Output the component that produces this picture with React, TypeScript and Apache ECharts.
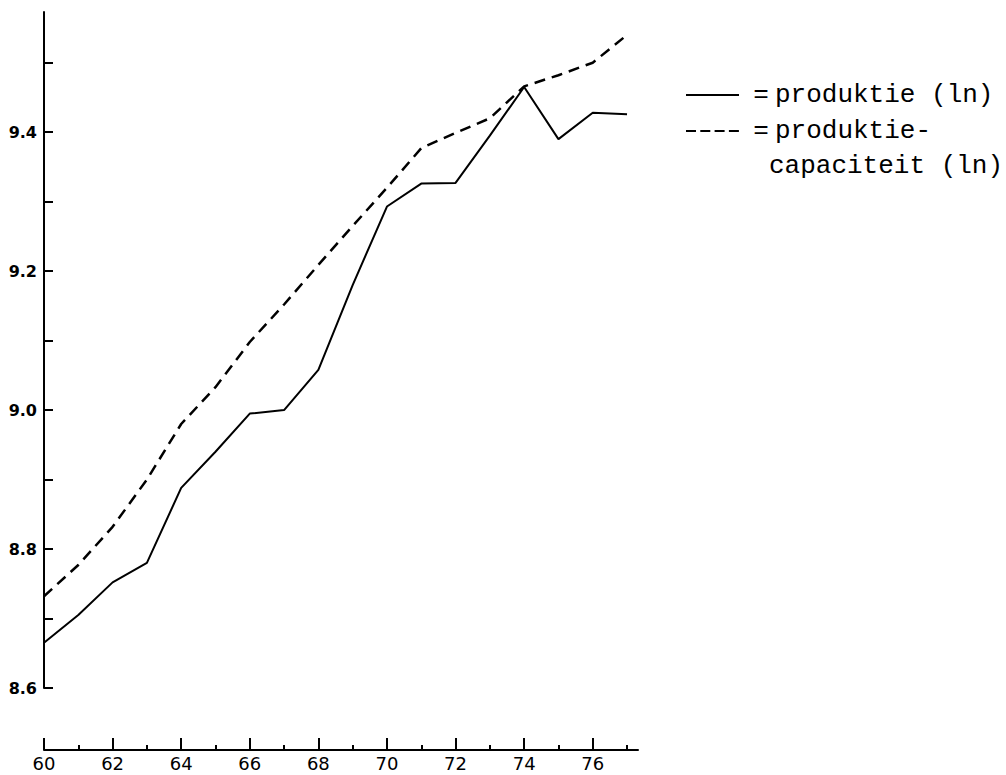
import React, { useEffect, useRef } from "react";
import * as echarts from "echarts";

const years = [60, 61, 62, 63, 64, 65, 66, 67, 68, 69, 70, 71, 72, 73, 74, 75, 76, 77];
const produktie = [8.665, 8.705, 8.752, 8.78, 8.888, 8.94, 8.995, 9.0, 9.058, 9.18, 9.293, 9.326, 9.327, 9.395, 9.465, 9.39, 9.428, 9.426];
const capaciteit = [8.732, 8.777, 8.832, 8.9, 8.98, 9.033, 9.098, 9.152, 9.209, 9.265, 9.32, 9.377, 9.399, 9.42, 9.466, 9.482, 9.5, 9.54];
const xMajorTicks = [60, 62, 64, 66, 68, 70, 72, 74, 76];
const xMinorTicks = [61, 63, 65, 67, 69, 71, 73, 75, 77];
const yTicks = [8.6, 8.7, 8.8, 8.9, 9.0, 9.1, 9.2, 9.3, 9.4, 9.5];
const yLabels = [8.6, 8.8, 9.0, 9.2, 9.4];
const legendSolid = "produktie (ln)";
const legendDashed1 = "produktie-";
const legendDashed2 = "capaciteit (ln)";

export default function App() {
  const ref = useRef<HTMLDivElement>(null);
  useEffect(() => {
    if (!ref.current) return;
    const chart = echarts.init(ref.current, null, { renderer: "svg" });
    const yFont = { fontFamily: "DejaVu Sans", fontSize: 16, fontWeight: "bold", color: "#000" };
    const xFont = { fontFamily: "DejaVu Sans", fontSize: 18, fontWeight: "normal", color: "#000" };
    const monoFont = { fontFamily: "Liberation Mono", fontSize: 26, fill: "#000" };
    chart.setOption({
      animation: false,
      backgroundColor: "#fff",
      grid: { left: 44, right: 368, top: 12, bottom: 87, containLabel: false },
      xAxis: [
        {
          type: "value",
          min: 60,
          max: 77.32,
          position: "bottom",
          offset: 62,
          axisLine: { show: true, lineStyle: { color: "#000", width: 2 } },
          axisTick: { show: true, inside: true, length: 12, customValues: xMajorTicks, lineStyle: { color: "#000", width: 2 } },
          axisLabel: { show: true, customValues: xMajorTicks, margin: 4, ...xFont, formatter: (v: number) => String(v) },
          splitLine: { show: false },
        },
        {
          type: "value",
          min: 60,
          max: 77.32,
          position: "bottom",
          offset: 62,
          axisLine: { show: false },
          axisTick: { show: true, inside: true, length: 5, customValues: xMinorTicks, lineStyle: { color: "#000", width: 2 } },
          axisLabel: { show: false },
          splitLine: { show: false },
        },
      ],
      yAxis: {
        type: "value",
        min: 8.6,
        max: 9.573,
        axisLine: { show: true, lineStyle: { color: "#000", width: 2 } },
        axisTick: { show: true, inside: true, length: 9, customValues: yTicks, lineStyle: { color: "#000", width: 2 } },
        axisLabel: { show: true, customValues: yLabels, margin: 7, ...yFont, formatter: (v: number) => v.toFixed(1) },
        splitLine: { show: false },
      },
      series: [
        {
          type: "line",
          name: "produktie",
          xAxisIndex: 0,
          data: years.map((y, i) => [y, produktie[i]]),
          showSymbol: false,
          symbol: "none",
          clip: false,
          lineStyle: { color: "#000", width: 2 },
        },
        {
          type: "line",
          name: "capaciteit",
          xAxisIndex: 0,
          data: years.map((y, i) => [y, capaciteit[i]]),
          showSymbol: false,
          symbol: "none",
          clip: false,
          lineStyle: { color: "#000", width: 2.5, type: [11, 7] },
        },
      ],
      graphic: [
        { type: "line", shape: { x1: 686, y1: 95, x2: 739, y2: 95 }, style: { stroke: "#000", lineWidth: 2 } },
        { type: "text", x: 761, y: 95, style: { text: "=", ...monoFont, align: "center", verticalAlign: "middle" } },
        { type: "text", x: 775, y: 95, style: { text: legendSolid, ...monoFont, align: "left", verticalAlign: "middle" } },
        { type: "line", shape: { x1: 686, y1: 131, x2: 739, y2: 131 }, style: { stroke: "#000", lineWidth: 2, lineDash: [10, 4.3] } },
        { type: "text", x: 761, y: 131, style: { text: "=", ...monoFont, align: "center", verticalAlign: "middle" } },
        { type: "text", x: 775, y: 131, style: { text: legendDashed1, ...monoFont, align: "left", verticalAlign: "middle" } },
        { type: "text", x: 769, y: 166, style: { text: legendDashed2, ...monoFont, align: "left", verticalAlign: "middle" } },
      ],
    });
    return () => chart.dispose();
  }, []);
  return <div ref={ref} style={{ position: "absolute", left: 0, top: 0, width: 1006, height: 775 }} />;
}
